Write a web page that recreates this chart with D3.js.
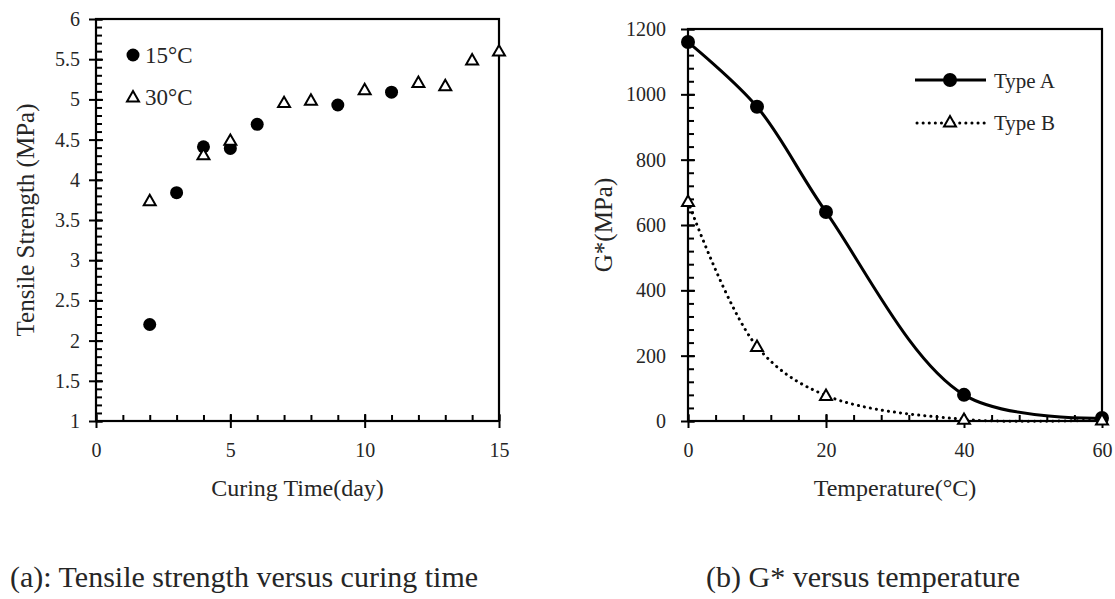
<!DOCTYPE html>
<html>
<head>
<meta charset="utf-8">
<script src="https://cdn.jsdelivr.net/npm/d3@7"></script>
<style>
  body { margin: 0; background: #fff; }
  svg text { font-family: "Liberation Serif", "Times New Roman", serif; fill: #262626; }
  .axis path, .axis line { stroke: #000; }
</style>
</head>
<body>
<svg id="fig" width="1115" height="599" font-family="Liberation Serif, serif"></svg>
<script>
// (a) tensile strength vs curing time
const days15 = [2, 3, 4, 5, 6, 9, 11];
const strength15 = [2.2, 3.84, 4.41, 4.39, 4.69, 4.93, 5.09];
const days30 = [2, 4, 5, 7, 8, 10, 12, 13, 14, 15];
const strength30 = [3.74, 4.31, 4.49, 4.96, 4.99, 5.12, 5.21, 5.17, 5.49, 5.6];
const dayTicks = [0, 5, 10, 15];
const strengthTicks = [1, 1.5, 2, 2.5, 3, 3.5, 4, 4.5, 5, 5.5, 6];

// (b) G* vs temperature
const temps = [0, 10, 20, 40, 60];
const gTypeA = [1160, 962, 640, 80, 9];
const gTypeB = [672, 228, 78, 5, 3];
const tempTicks = [0, 20, 40, 60];
const gTicks = [0, 200, 400, 600, 800, 1000, 1200];

const svg = d3.select('#fig');
const serif = '"Liberation Serif", "Times New Roman", serif';

// boxed chart: major ticks cross the axis, minor ticks inside
function frame(cfg) {
  const g = svg.append('g');
  const x = d3.scaleLinear().domain(cfg.xDomain).range([cfg.left, cfg.right]);
  const y = d3.scaleLinear().domain(cfg.yDomain).range([cfg.bottom, cfg.top]);

  // minor ticks
  g.append('g').attr('class', 'axis')
      .attr('transform', `translate(0,${cfg.bottom})`)
      .call(d3.axisBottom(x).tickValues(cfg.xMinor).tickSize(-6).tickFormat(''))
      .call(s => s.select('.domain').remove());
  g.append('g').attr('class', 'axis')
      .attr('transform', `translate(${cfg.left},0)`)
      .call(d3.axisLeft(y).tickValues(cfg.yMinor).tickSize(-6).tickFormat(''))
      .call(s => s.select('.domain').remove());

  // major ticks, inner half
  g.append('g').attr('class', 'axis')
      .attr('transform', `translate(0,${cfg.bottom})`)
      .call(d3.axisBottom(x).tickValues(cfg.xTicks).tickSize(-7).tickFormat(''))
      .call(s => s.select('.domain').remove());
  g.append('g').attr('class', 'axis')
      .attr('transform', `translate(${cfg.left},0)`)
      .call(d3.axisLeft(y).tickValues(cfg.yTicks).tickSize(-7).tickFormat(''))
      .call(s => s.select('.domain').remove());

  // major ticks, outer half + labels
  const xa = g.append('g').attr('class', 'axis')
      .attr('transform', `translate(0,${cfg.bottom})`)
      .call(d3.axisBottom(x).tickValues(cfg.xTicks).tickSize(7).tickPadding(15).tickFormat(d => d));
  const ya = g.append('g').attr('class', 'axis')
      .attr('transform', `translate(${cfg.left},0)`)
      .call(d3.axisLeft(y).tickValues(cfg.yTicks).tickSize(7).tickPadding(cfg.yPad).tickFormat(d => d));
  [xa, ya].forEach(ax => {
    ax.attr('font-family', serif);
    ax.select('.domain').remove();
    ax.selectAll('text')
      .style('font-family', serif).style('font-size', '20px').attr('fill', '#333');
  });
  g.selectAll('.tick line').attr('stroke-width', 2);

  // box
  g.append('rect')
      .attr('x', cfg.left).attr('y', cfg.top)
      .attr('width', cfg.right - cfg.left).attr('height', cfg.bottom - cfg.top)
      .attr('fill', 'none').attr('stroke', '#000').attr('stroke-width', 2.2);

  // axis titles
  g.append('text')
      .attr('x', (cfg.left + cfg.right) / 2).attr('y', 496)
      .attr('text-anchor', 'middle').style('font-size', '24px')
      .text(cfg.xTitle);
  g.append('text')
      .attr('transform', `translate(${cfg.yTitleX},${(cfg.top + cfg.bottom) / 2}) rotate(-90)`)
      .attr('text-anchor', 'middle').style('font-size', '25px')
      .text(cfg.yTitle);

  return {g, x, y};
}

const tri = d3.symbol().type(d3.symbolTriangle).size(62);

// ---- chart (a)
const a = frame({
  left: 96, right: 499, top: 19, bottom: 421,
  xDomain: [0, 15], yDomain: [1, 6],
  xTicks: dayTicks, yTicks: strengthTicks,
  xMinor: d3.range(0, 16, 1), yMinor: d3.range(1, 6.001, 0.1),
  yPad: 9, yTitleX: 34,
  xTitle: 'Curing Time(day)', yTitle: 'Tensile Strength (MPa)'
});

a.g.selectAll('.p15')
  .data(days15.map((d, i) => [d, strength15[i]]))
  .join('circle')
    .attr('cx', d => a.x(d[0])).attr('cy', d => a.y(d[1]))
    .attr('r', 6.5).attr('fill', '#000');

a.g.selectAll('.p30')
  .data(days30.map((d, i) => [d, strength30[i]]))
  .join('path')
    .attr('d', tri)
    .attr('transform', d => `translate(${a.x(d[0])},${a.y(d[1]) + 1})`)
    .attr('fill', '#fff').attr('stroke', '#000').attr('stroke-width', 2);

// legend (a)
a.g.append('circle').attr('cx', 133).attr('cy', 55).attr('r', 6.5).attr('fill', '#000');
a.g.append('text').attr('x', 145).attr('y', 63).style('font-size', '23px').text('15°C');
a.g.append('path').attr('d', tri).attr('transform', 'translate(133,98)')
  .attr('fill', '#fff').attr('stroke', '#000').attr('stroke-width', 2);
a.g.append('text').attr('x', 145).attr('y', 105).style('font-size', '23px').text('30°C');

// ---- chart (b)
const b = frame({
  left: 688, right: 1102, top: 29, bottom: 421,
  xDomain: [0, 60], yDomain: [0, 1200],
  xTicks: tempTicks, yTicks: gTicks,
  xMinor: d3.range(0, 61, 4), yMinor: d3.range(0, 1201, 40),
  yPad: 15, yTitleX: 612,
  xTitle: 'Temperature(°C)', yTitle: 'G*(MPa)'
});

const line = d3.line()
    .x(d => b.x(d[0])).y(d => b.y(d[1]))
    .curve(d3.curveCatmullRom.alpha(0.5));

const ptsA = temps.map((t, i) => [t, gTypeA[i]]);
const ptsB = temps.map((t, i) => [t, gTypeB[i]]);

b.g.append('path').datum(ptsB).attr('d', line)
  .attr('fill', 'none').attr('stroke', '#000').attr('stroke-width', 3)
  .attr('stroke-dasharray', '0.1 6').attr('stroke-linecap', 'round');
b.g.append('path').datum(ptsA).attr('d', line)
  .attr('fill', 'none').attr('stroke', '#000').attr('stroke-width', 3);

b.g.selectAll('.pa').data(ptsA).join('circle')
    .attr('cx', d => b.x(d[0])).attr('cy', d => b.y(d[1]))
    .attr('r', 7).attr('fill', '#000');
b.g.selectAll('.pb').data(ptsB).join('path')
    .attr('d', tri)
    .attr('transform', d => `translate(${b.x(d[0])},${b.y(d[1]) + 1})`)
    .attr('fill', '#fff').attr('stroke', '#000').attr('stroke-width', 2);

// legend (b)
b.g.append('line').attr('x1', 915).attr('x2', 986).attr('y1', 80).attr('y2', 80)
  .attr('stroke', '#000').attr('stroke-width', 3);
b.g.append('circle').attr('cx', 950).attr('cy', 80).attr('r', 7).attr('fill', '#000');
b.g.append('text').attr('x', 994).attr('y', 88).style('font-size', '21px').text('Type A');
b.g.append('line').attr('x1', 917).attr('x2', 986).attr('y1', 123).attr('y2', 123)
  .attr('stroke', '#000').attr('stroke-width', 3)
  .attr('stroke-dasharray', '0.1 6').attr('stroke-linecap', 'round');
b.g.append('path').attr('d', tri).attr('transform', 'translate(950,123)')
  .attr('fill', '#fff').attr('stroke', '#000').attr('stroke-width', 2);
b.g.append('text').attr('x', 994).attr('y', 130).style('font-size', '21px').text('Type B');

// captions
svg.append('text').attr('x', 10).attr('y', 587).style('font-size', '30px')
  .text('(a): Tensile strength versus curing time');
svg.append('text').attr('x', 706).attr('y', 587).style('font-size', '30px')
  .text('(b) G* versus temperature');
</script>
</body>
</html>
